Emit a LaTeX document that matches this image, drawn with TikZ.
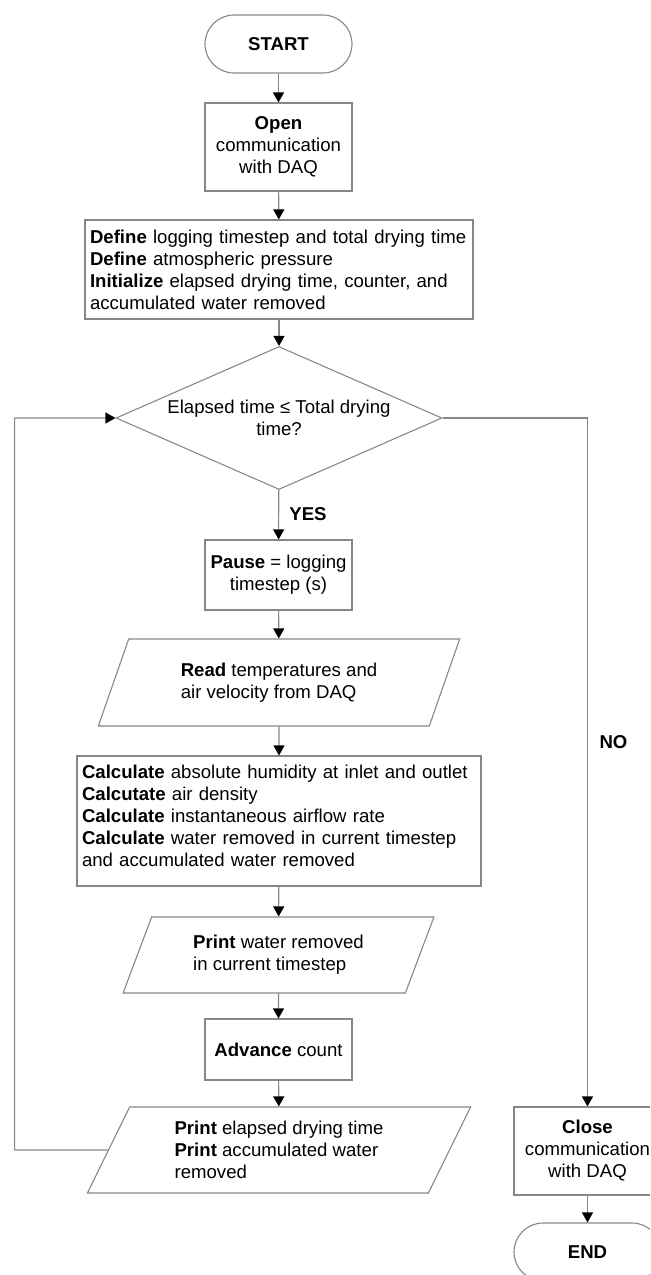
\documentclass[tikz,border=0pt]{standalone}
\usepackage{fontspec}
\setmainfont{Liberation Sans}
\usetikzlibrary{shapes.geometric,arrows.meta}
\definecolor{linegray}{RGB}{135,135,135}

\begin{document}
\begin{tikzpicture}[x=0.5pt, y=-0.5pt, line width=0.55pt,
    every node/.style={font=\fontsize{9.3}{11}\selectfont},
    term/.style={draw=linegray, rectangle, rounded corners=14.5pt, minimum width=73.5pt, minimum height=29pt, font=\fontsize{9.3}{11}\selectfont\bfseries},
    box/.style={draw=linegray, rectangle, inner sep=0pt, minimum width=73.5pt, align=center},
    textbox/.style={draw=linegray, rectangle, inner xsep=2.5pt, inner ysep=0pt, align=left},
    io/.style={draw=linegray, trapezium, trapezium stretches=true, inner sep=0pt, align=left},
    decision/.style={draw=linegray, diamond, aspect=2.28, inner sep=0pt, align=center, minimum width=163pt, minimum height=71.5pt},
    flow/.style={draw=linegray, -{Triangle[length=5pt,width=5.5pt,color=black]}}]

            % Clip to the page
            \clip (0,0) rectangle (650,1275);

            % Main column
            \node[term] (start) at (278.5,44) {START};
            \node[box, minimum height=44pt] (open) at (278.5,147) {\textbf{Open}\\communication\\with DAQ};
            \node[textbox, text width=189pt, minimum height=49.5pt] (define) at (279,269.5)
                {\textbf{Define} logging timestep and total drying time\\
                 \textbf{Define} atmospheric pressure\\
                 \textbf{Initialize} elapsed drying time, counter, and\\
                 accumulated water removed};
            \node[decision] (cond) at (279,418) {Elapsed time ≤ Total drying\\time?};
            \node[box, minimum height=35pt] (pause) at (278.5,575) {\textbf{Pause} = logging\\timestep (s)};
            \node[io, minimum width=181pt, minimum height=43.5pt,
                  trapezium left angle=63.2, trapezium right angle=116.8] (read) at (279,682.5)
                {\textbf{Read} temperatures and\\air velocity from DAQ};
            \node[textbox, text width=197pt, minimum height=65pt] (calc) at (279,821)
                {\textbf{Calculate} absolute humidity at inlet and outlet\\
                 \textbf{Calcutate} air density\\
                 \textbf{Calculate} instantaneous airflow rate\\
                 \textbf{Calculate} water removed in current timestep\\
                 and accumulated water removed\\[-5.5pt]\mbox{}};
            \node[io, minimum width=155.5pt, minimum height=38pt,
                  trapezium left angle=64, trapezium right angle=116] (printw) at (278.5,955)
                {\textbf{Print} water removed\\in current timestep};
            \node[box, minimum height=30.5pt] (advance) at (278.5,1049.5) {\textbf{Advance} count};
            \node[io, minimum width=191.75pt, minimum height=43pt,
                  trapezium left angle=62.9, trapezium right angle=117.1] (printe) at (279,1150)
                {\textbf{Print} elapsed drying time\\\textbf{Print} accumulated water\\removed};

            % Exit branch
            \node[box, minimum height=44pt] (close) at (587.5,1151) {\textbf{Close}\\communication\\with DAQ};
            \node[term] (end) at (587.5,1252) {END};

            % Branch labels
            \node[font=\fontsize{9.3}{11}\selectfont\bfseries] (yes) at (308,514) {YES};
            \node[font=\fontsize{9.3}{11}\selectfont\bfseries] (no) at (613.5,742) {NO};

            % Draw the arrows down the column
            \draw[flow] (start) -- (open);
            \draw[flow] (open) -- (define);
            \draw[flow] (define) -- (cond);
            \draw[flow] (cond) -- (pause);
            \draw[flow] (pause) -- (read);
            \draw[flow] (read) -- (calc);
            \draw[flow] (calc) -- (printw);
            \draw[flow] (printw) -- (advance);
            \draw[flow] (advance) -- (printe);

            % Loop back and exit
            \coordinate (back) at (14.6,1150);
            \draw[flow] (printe.west) -- (back) |- (cond.west);
            \draw[flow] (cond.east) -| (close.north);
            \draw[flow] (close) -- (end);

\end{tikzpicture}
\end{document}
